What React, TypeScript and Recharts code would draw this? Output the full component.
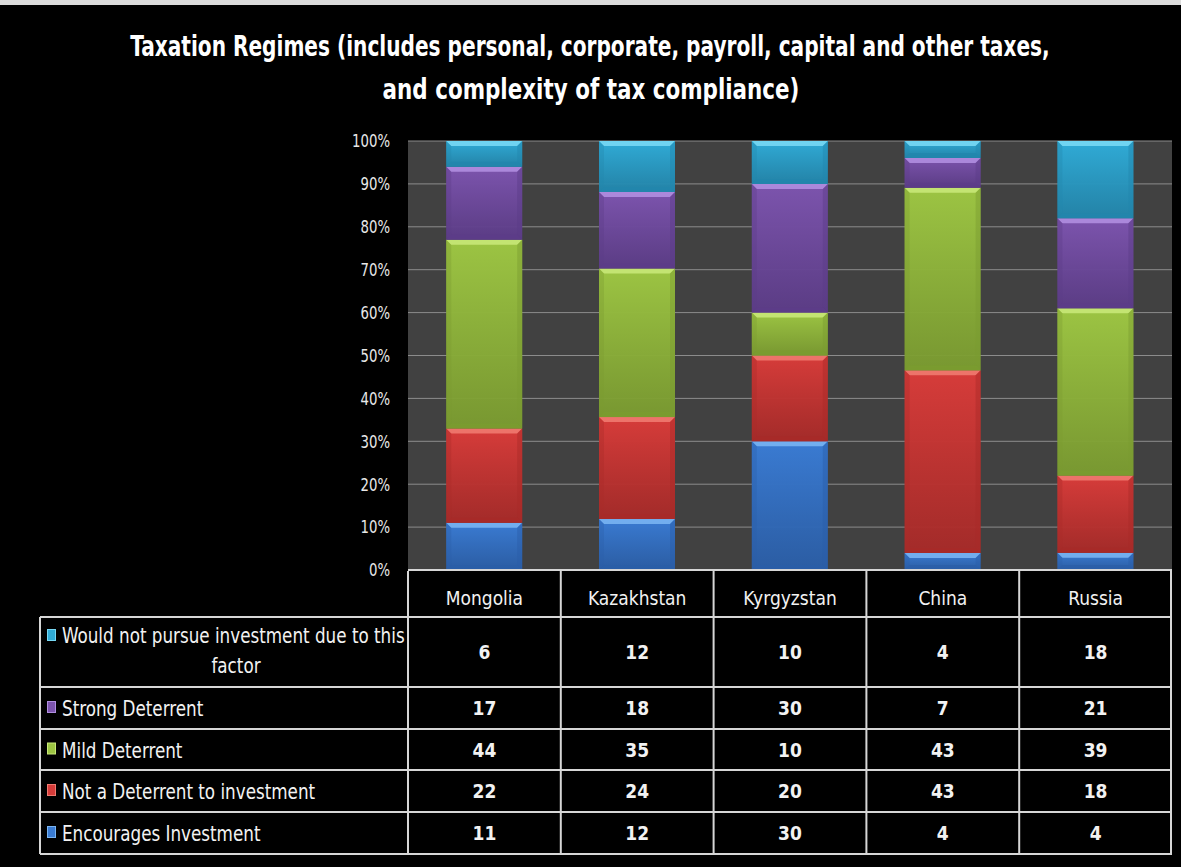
import React, { useLayoutEffect, useRef, useState } from 'react';
import { BarChart, Bar, XAxis, YAxis, CartesianGrid } from 'recharts';

const categories = ['Mongolia', 'Kazakhstan', 'Kyrgyzstan', 'China', 'Russia'];
const encourages = [11, 12, 30, 4, 4];
const notDeterrent = [22, 24, 20, 43, 18];
const mildDeterrent = [44, 35, 10, 43, 39];
const strongDeterrent = [17, 18, 30, 7, 21];
const wouldNotPursue = [6, 12, 10, 4, 18];
const yTicks = [0, 0.1, 0.2, 0.3, 0.4, 0.5, 0.6, 0.7, 0.8, 0.9, 1];

const titleLine1 = 'Taxation Regimes (includes personal, corporate, payroll, capital and other taxes,';
const titleLine2 = 'and complexity of tax compliance)';

const seriesDefs = [
  { key: 'enc', name: 'Encourages Investment', values: encourages, base: '#3a7bd2', light: '#79b4f2', dark: '#2a5ea8' },
  { key: 'not', name: 'Not a Deterrent to investment', values: notDeterrent, base: '#d63c3a', light: '#f07a70', dark: '#a82a28' },
  { key: 'mild', name: 'Mild Deterrent', values: mildDeterrent, base: '#9cc443', light: '#c8e878', dark: '#7b9c30' },
  { key: 'strong', name: 'Strong Deterrent', values: strongDeterrent, base: '#7c54ad', light: '#b08ee0', dark: '#5c3c88' },
  { key: 'would', name: 'Would not pursue investment due to this factor', values: wouldNotPursue, base: '#30abd6', light: '#78d8f4', dark: '#2286ac' },
];

const data = categories.map((name, i) => {
  const row: any = { name };
  seriesDefs.forEach((s) => { row[s.key] = s.values[i]; });
  return row;
});

const W = 1181;
const H = 867;
const PLOT_LEFT = 408;
const PLOT_RIGHT = 1172;
const PLOT_TOP = 141;
const PLOT_BOTTOM = 570;
const YAXIS_W = 60;
const XAXIS_H = 30;
const FONT = "'Liberation Sans Narrow', 'Arial Narrow', 'DejaVu Sans Condensed', 'Open Sans', sans-serif";

const BevelBar = (props: any) => {
  const { x, y, width, height, sdef } = props;
  if (!width || !height || height <= 0) return null;
  const b = Math.min(5, height / 3);
  return (
    <g>
      <rect x={x} y={y} width={width} height={height} fill={`url(#grad-${sdef.key})`} />
      <polygon points={`${x},${y} ${x + width},${y} ${x + width - b},${y + b} ${x + b},${y + b}`} fill={sdef.light} opacity={0.9} />
      <polygon points={`${x},${y} ${x + b},${y + b} ${x + b},${y + height - b} ${x},${y + height}`} fill={sdef.dark} opacity={0.35} />
      <polygon points={`${x + width},${y} ${x + width - b},${y + b} ${x + width - b},${y + height - b} ${x + width},${y + height}`} fill={sdef.dark} opacity={0.45} />
      <polygon points={`${x},${y + height} ${x + width},${y + height} ${x + width - b},${y + height - b} ${x + b},${y + height - b}`} fill={sdef.dark} opacity={0.8} />
    </g>
  );
};

const YTick = (props: any) => {
  const { x, y, payload } = props;
  return (
    <g transform={`translate(${x},${y}) scale(0.82,1)`}>
      <text x={0} y={0} dy="0.355em" textAnchor="end" fill="#e8e8e8" fontFamily={FONT} fontSize={18}>
        {`${Math.round(payload.value * 100)}%`}
      </text>
    </g>
  );
};

function FitText({ x, y, width, anchor = 'middle', children, ...rest }: any) {
  const ref = useRef<SVGTextElement>(null);
  const [s, setS] = useState(1);
  useLayoutEffect(() => {
    if (ref.current) {
      const w = ref.current.getComputedTextLength();
      if (w > 0) setS(width / w);
    }
  }, [width, children]);
  return (
    <g transform={`translate(${x},${y}) scale(${s},1)`}>
      <text ref={ref} x={0} y={0} textAnchor={anchor} {...rest}>{children}</text>
    </g>
  );
}

export default function App() {
  const colW = (PLOT_RIGHT - PLOT_LEFT) / categories.length;
  const tableTop = 571;
  const headerBottom = 617;
  const rowBounds = [617, 687, 729, 770, 812, 854];
  const tableRows = [...seriesDefs].reverse();
  const lineColor = '#d6d6d6';

  const firstLabelRef = useRef<SVGTextElement>(null);
  const [labelScale, setLabelScale] = useState(1);
  useLayoutEffect(() => {
    if (firstLabelRef.current) {
      const w = firstLabelRef.current.getComputedTextLength();
      if (w > 0) setLabelScale(343 / w);
    }
  }, []);

  const labelProps = { fill: '#f2f2f2', fontFamily: FONT, fontSize: 22 };

  return (
    <div style={{ position: 'absolute', left: 0, top: 0, width: W, height: H, background: '#000', overflow: 'hidden' }}>
      <div style={{ position: 'absolute', left: 0, top: 0, width: W, height: 5, background: '#dcdcdc' }} />
      <div style={{ position: 'absolute', left: 0, top: 0 }}>
        <BarChart
          width={W}
          height={H}
          data={data}
          stackOffset="expand"
          barCategoryGap="25%"
          margin={{ top: PLOT_TOP, right: W - PLOT_RIGHT, bottom: H - PLOT_BOTTOM - XAXIS_H, left: PLOT_LEFT - YAXIS_W }}
        >
          <defs>
            {seriesDefs.map((s) => (
              <linearGradient key={s.key} id={`grad-${s.key}`} x1="0" y1="0" x2="0" y2="1">
                <stop offset="0%" stopColor={s.base} />
                <stop offset="100%" stopColor={s.dark} stopOpacity={0.95} />
              </linearGradient>
            ))}
          </defs>
          <CartesianGrid horizontal vertical={false} stroke="#8c8c8c" strokeWidth={1} fill="#414141" />
          <XAxis
            dataKey="name"
            height={XAXIS_H}
            tickLine={false}
            axisLine={{ stroke: lineColor, strokeWidth: 2 }}
            tickSize={0}
            tickMargin={22}
            tick={{ fill: '#f2f2f2', fontSize: 19, fontFamily: FONT }}
          />
          <YAxis
            width={YAXIS_W}
            domain={[0, 1]}
            ticks={yTicks}
            tickLine={false}
            axisLine={false}
            tickSize={0}
            tickMargin={18}
            tick={<YTick />}
          />
          {seriesDefs.map((s) => (
            <Bar
              key={s.key}
              dataKey={s.key}
              name={s.name}
              stackId="a"
              fill={s.base}
              isAnimationActive={false}
              shape={(p: any) => <BevelBar {...p} sdef={s} />}
            />
          ))}
        </BarChart>
      </div>
      <svg width={W} height={H} style={{ position: 'absolute', left: 0, top: 0, pointerEvents: 'none' }}>
        <FitText x={590} y={56} width={920} fill="#ffffff" fontFamily={FONT} fontWeight="bold" fontSize={28}>{titleLine1}</FitText>
        <FitText x={591} y={99} width={417} fill="#ffffff" fontFamily={FONT} fontWeight="bold" fontSize={28}>{titleLine2}</FitText>

        {categories.map((c, i) => (
          <line key={`hv${i}`} x1={PLOT_LEFT + i * colW} x2={PLOT_LEFT + i * colW} y1={tableTop} y2={rowBounds[rowBounds.length - 1]} stroke={lineColor} strokeWidth={2} />
        ))}
        <line x1={PLOT_RIGHT - 1} x2={PLOT_RIGHT - 1} y1={tableTop} y2={rowBounds[rowBounds.length - 1]} stroke={lineColor} strokeWidth={2} />
        <line x1={40} x2={40} y1={headerBottom} y2={rowBounds[rowBounds.length - 1]} stroke={lineColor} strokeWidth={2} />
        {rowBounds.map((yy, i) => (
          <line key={`hl${i}`} x1={40} x2={PLOT_RIGHT} y1={yy} y2={yy} stroke={lineColor} strokeWidth={2} />
        ))}

        {tableRows.map((s, r) => {
          const y0 = rowBounds[r];
          const y1 = rowBounds[r + 1];
          const cy = (y0 + y1) / 2;
          const isTwoLine = r === 0;
          const swY = isTwoLine ? y0 + 12 : cy - 7;
          return (
            <g key={s.key}>
              <rect x={47} y={swY} width={9} height={12} fill={s.light} />
              <rect x={48} y={swY + 1} width={7} height={10} fill={s.base} />
              {isTwoLine ? (
                <>
                  <g transform={`translate(62, ${y0 + 26}) scale(${labelScale},1)`}>
                    <text ref={firstLabelRef} x={0} y={0} {...labelProps}>Would not pursue investment due to this</text>
                  </g>
                  <g transform={`translate(236, ${y0 + 56}) scale(${labelScale},1)`}>
                    <text x={0} y={0} textAnchor="middle" {...labelProps}>factor</text>
                  </g>
                </>
              ) : (
                <g transform={`translate(62, ${cy + 8}) scale(${labelScale},1)`}>
                  <text x={0} y={0} {...labelProps}>{s.name}</text>
                </g>
              )}
              {s.values.map((v, i) => (
                <text key={i} x={PLOT_LEFT + (i + 0.5) * colW} y={cy + 7} textAnchor="middle" fill="#f2f2f2" fontFamily={FONT} fontWeight="bold" fontSize={19}>{v}</text>
              ))}
            </g>
          );
        })}
      </svg>
    </div>
  );
}
